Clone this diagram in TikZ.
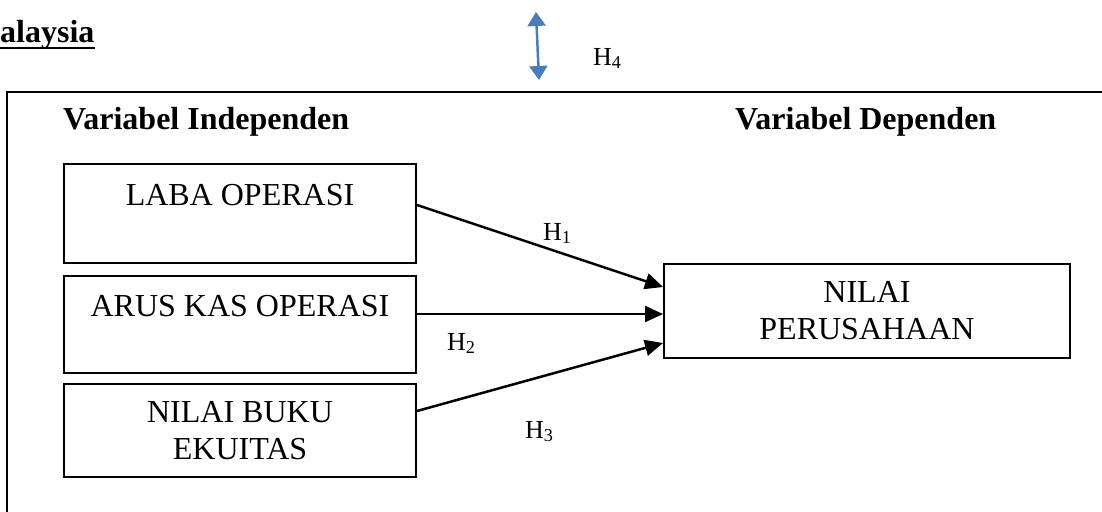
\documentclass[tikz,border=0pt]{standalone}
\usepackage{fontspec}
\setmainfont{Liberation Serif}
\usetikzlibrary{arrows.meta,calc}
\definecolor{hfourblue}{RGB}{74,126,187}
\tikzset{
 boxnode/.style={draw, line width=2pt, align=center, inner sep=0pt, anchor=north west, font=\fontsize{32}{37}\selectfont},
 hdr/.style={font=\fontsize{32}{37}\selectfont\bfseries, anchor=base west, inner sep=0pt},
 hlab/.style={font=\fontsize{26}{30}\selectfont, anchor=base west, inner sep=0pt},
 arr/.style={line width=2.5pt, -{Triangle[length=18pt,width=16pt]}},
 biarr/.style={line width=2.5pt, hfourblue, {Triangle[length=14pt,width=18pt]}-{Triangle[length=14pt,width=18pt]}},
 framepath/.style={line width=2pt}
}
\begin{document}
\begin{tikzpicture}[x=1pt,y=-1pt]
\useasboundingbox (0,0) rectangle (1102,511);
% outer frame (cut by the page)
\coordinate (ftl) at (7,92);
\draw[framepath] (7,530) -- (ftl) -- (1120,92);
% title fragment
\node[hdr] (mal) at (0,43) {alaysia};
\draw[line width=2.5pt] ($(mal.base west)+(0,5)$) -- ($(mal.base east)+(0,5)$);
% H4 arrow
\coordinate (h4top) at (536,12);
\coordinate (h4bot) at (539,80);
\draw[biarr] (h4top) -- (h4bot);
\node[hlab] (h4) at (593,65) {H\textsubscript{4}};
% headers
\node[hdr] (hind) at (63,129) {Variabel Independen};
\node[hdr] (hdep) at (735,129) {Variabel Dependen};
% boxes
\node[boxnode, minimum width=352pt, minimum height=99pt] (b1) at (63,163) {LABA OPERASI\\\mbox{}};
\node[boxnode, minimum width=352pt, minimum height=97pt] (b2) at (63,275) {ARUS KAS OPERASI\\\mbox{}};
\node[boxnode, minimum width=352pt, minimum height=93pt] (b3) at (63,383) {NILAI BUKU\\EKUITAS};
\node[boxnode, minimum width=406pt, minimum height=94pt] (b4) at (663,263) {NILAI\\PERUSAHAAN};
% arrows
\draw[arr] (b1.east |- 0,205) -- (b4.west |- 0,287);
\draw[arr] (b2.east |- 0,314) -- (b4.west |- 0,314);
\draw[arr] (b3.east |- 0,411) -- (b4.west |- 0,343);
% labels
\node[hlab] (h1) at (543,240) {H\textsubscript{1}};
\node[hlab] (h2) at (447,350) {H\textsubscript{2}};
\node[hlab] (h3) at (525,438) {H\textsubscript{3}};
\end{tikzpicture}
\end{document}
